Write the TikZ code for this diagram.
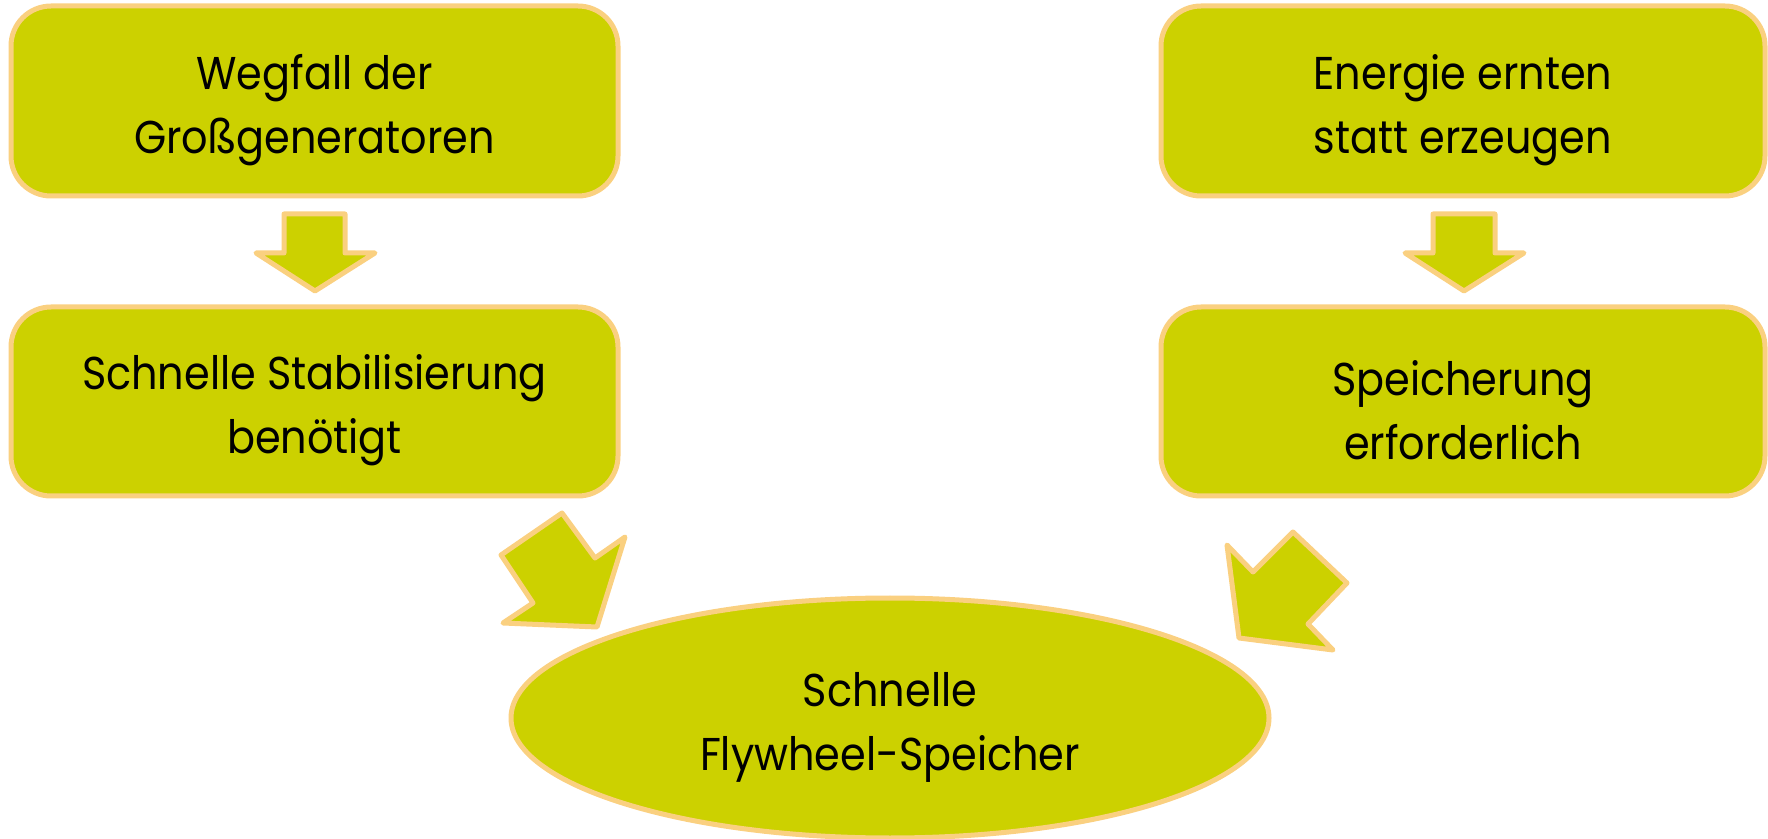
\documentclass[tikz,border=0pt]{standalone}
\usepackage{fontspec}
\setmainfont{Poppins}[FakeStretch=0.9]
\usetikzlibrary{shapes.geometric}
\definecolor{fillgreen}{RGB}{204,209,0}
\definecolor{edgeorange}{RGB}{250,208,128}
\tikzset{
  box/.style={draw=edgeorange, fill=fillgreen, line width=2.5pt, rounded corners=20pt},
  oval/.style={draw=edgeorange, fill=fillgreen, line width=2.5pt, ellipse, inner sep=0pt},
  boxtext/.style={align=center, font=\fontsize{23}{32}\selectfont, text=black, inner sep=0pt},
  blockarrow/.style={draw=edgeorange, fill=fillgreen, line width=2.5pt, line join=round}
}
\begin{document}
\begin{tikzpicture}[x=0.5pt,y=-0.5pt]
\useasboundingbox (0,0) rectangle (1768,839);

% text boxes
\node[box, minimum width=303.5pt, minimum height=95pt] (wegfall) at (314.5,101) {};
\node[box, minimum width=303.5pt, minimum height=94.5pt] (stabil) at (314.5,401.5) {};
\node[box, minimum width=302pt, minimum height=95pt] (ernten) at (1463,101) {};
\node[box, minimum width=302pt, minimum height=94.5pt] (speicher) at (1463,401.5) {};

% result
\node[oval, minimum width=379pt, minimum height=120pt] (flywheel) at (890,718) {};

% labels, set a little below the shape centres
\node[boxtext] (wegfalltxt) at ([yshift=-4.5pt]wegfall.center) {Wegfall der\\Großgeneratoren};
\node[boxtext] (stabiltxt) at ([yshift=-4.5pt]stabil.center) {Schnelle Stabilisierung\\benötigt};
\node[boxtext] (erntentxt) at ([yshift=-4.5pt]ernten.center) {Energie ernten\\statt erzeugen};
\node[boxtext] (speichertxt) at ([yshift=-4.5pt]speicher.center) {Speicherung\\erforderlich};
\node[boxtext] (flywheeltxt) at ([yshift=-4.5pt]flywheel.center) {Schnelle\\Flywheel-Speicher};

% block arrows
\draw[blockarrow] (284,214) -- (345,214) -- (345,253) -- (375,253) -- (315,291)
  -- (256,253) -- (284,253) -- cycle;
\draw[blockarrow] (1433,214) -- (1495,214) -- (1495,253) -- (1524,253) -- (1464,291)
  -- (1405,253) -- (1433,253) -- cycle;
\draw[blockarrow] (501,555) -- (562,513) -- (595,558) -- (625,537) -- (597,627)
  -- (503,623) -- (533,603) -- cycle;
\draw[blockarrow] (1227,545) -- (1253,572) -- (1293,532) -- (1347,583) -- (1308,624)
  -- (1333,650) -- (1239,638) -- cycle;
\end{tikzpicture}
\end{document}
